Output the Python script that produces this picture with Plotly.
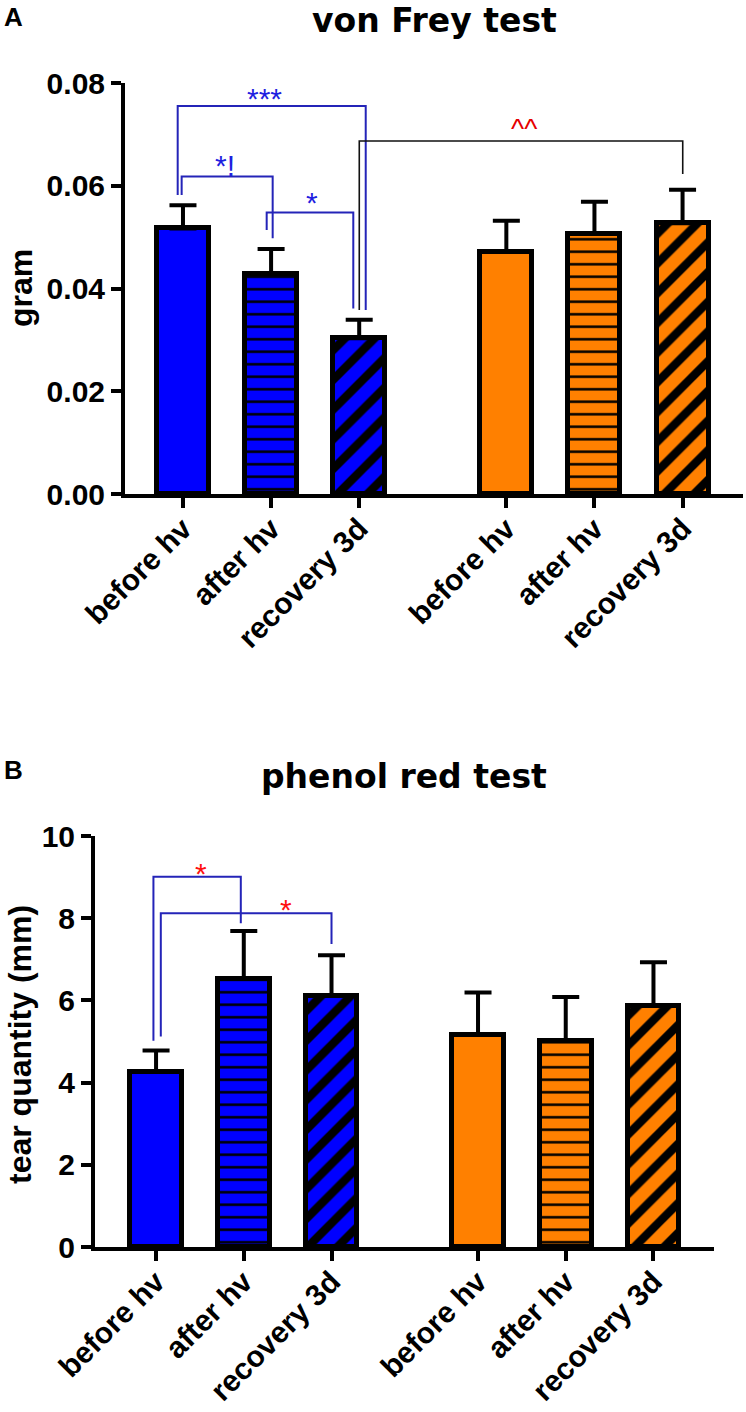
import plotly.graph_objects as go

# ---------------- data ----------------
categories = ["before hv", "after hv", "recovery 3d", "before hv", "after hv", "recovery 3d"]
x_pos = [0, 1, 2, 3.67, 4.67, 5.67]

vf_mean = [0.0517, 0.0428, 0.0303, 0.0472, 0.0506, 0.0527]
vf_sem = [0.0045, 0.0049, 0.0036, 0.0060, 0.0063, 0.0065]

pr_mean = [4.26, 6.52, 6.11, 5.16, 5.02, 5.87]
pr_sem = [0.52, 1.17, 0.99, 1.03, 1.06, 1.06]

vf_ticks = [0, 0.02, 0.04, 0.06, 0.08]
vf_ticktext = ["0.00", "0.02", "0.04", "0.06", "0.08"]
pr_ticks = [0, 2, 4, 6, 8, 10]
pr_ticktext = ["0", "2", "4", "6", "8", "10"]

# significance brackets: (x points, y points, colour key)
vf_brackets = [
    ([-0.06, -0.06, 2.074, 2.074], [0.0582, 0.0755, 0.0755, 0.0358], "blue"),
    ([-0.015, -0.015, 1.018, 1.018], [0.0582, 0.0618, 0.0618, 0.0498], "blue"),
    ([0.95, 0.95, 1.933, 1.933], [0.0514, 0.0548, 0.0548, 0.0361], "blue"),
    ([2.001, 2.001, 5.672, 5.672], [0.0358, 0.0687, 0.0687, 0.0623], "black"),
]
vf_marks = [("***", 0.93, 0.0783, "blue"), ("*!", 0.477, 0.0654, "blue"),
            ("*", 1.46, 0.0582, "blue"), ("^^", 3.87, 0.0725, "red")]

pr_brackets = [
    ([-0.03, -0.03, 0.966, 0.966], [5.02, 9.01, 9.01, 7.88], "blue"),
    ([0.054, 0.054, 2.0, 2.0], [5.12, 8.12, 8.12, 7.37], "blue"),
]
pr_marks = [("*", 0.513, 9.25, "red2"), ("*", 1.48, 8.37, "red2")]

# ---------------- styles ----------------
BLUE = "#0000FF"
ORANGE = "#FF8000"
fills = [BLUE, BLUE, BLUE, ORANGE, ORANGE, ORANGE]
shapes = ["", "-", "/", "", "-", "/"]
psizes = [10, 12.5, 21, 10, 12.5, 21]
psolid = [0.2, 0.2, 0.4, 0.2, 0.2, 0.4]
line_col = {"blue": "#2424b8", "black": "#111111"}
text_col = {"blue": "#1f1fe0", "red": "#e60000", "red2": "#ff1010"}

FONT = "Liberation Sans, Arial, Helvetica, sans-serif"
TFONT = "DejaVu Sans, Verdana, sans-serif"
W, H = 746, 1412

fig = go.Figure()


def add_panel(means, sems, xa, ya):
    for i in range(len(means)):
        pat = dict(shape=shapes[i], fgcolor="black", bgcolor=fills[i],
                   size=psizes[i], solidity=psolid[i], fillmode="replace")
        fig.add_trace(go.Bar(
            x=[x_pos[i]], y=[means[i]], width=0.59,
            marker=dict(color=fills[i], line=dict(color="black", width=5), pattern=pat),
            error_y=dict(type="data", array=[sems[i]], arrayminus=[0], symmetric=False,
                         color="black", thickness=4, width=13.5),
            xaxis=xa, yaxis=ya, hoverinfo="skip"))


add_panel(vf_mean, vf_sem, "x", "y")
add_panel(pr_mean, pr_sem, "x2", "y2")

for xs, ys, c in vf_brackets:
    fig.add_trace(go.Scatter(x=xs, y=ys, mode="lines", xaxis="x", yaxis="y",
                             line=dict(color=line_col[c], width=2 if c == "blue" else 1.6),
                             hoverinfo="skip"))
for xs, ys, c in pr_brackets:
    fig.add_trace(go.Scatter(x=xs, y=ys, mode="lines", xaxis="x2", yaxis="y2",
                             line=dict(color=line_col[c], width=2), hoverinfo="skip"))

annotations = []
for t, x, y, c in vf_marks:
    annotations.append(dict(text=t, x=x, y=y, xref="x", yref="y", showarrow=False,
                            xanchor="center", yanchor="middle", yshift=-7,
                            font=dict(family=FONT, size=30 if t != "^^" else 28, color=text_col[c])))
for t, x, y, c in pr_marks:
    annotations.append(dict(text=t, x=x, y=y, xref="x2", yref="y2", showarrow=False,
                            xanchor="center", yanchor="middle", yshift=-7,
                            font=dict(family=FONT, size=30, color=text_col[c])))


def px(xp):
    return xp / W


def py(yp):
    return 1 - yp / H


annotations += [
    dict(text="<b>von Frey test</b>", x=px(434.5), y=py(20), xref="paper", yref="paper",
         showarrow=False, xanchor="center", yanchor="middle",
         font=dict(family=TFONT, size=33, color="black")),
    dict(text="<b>phenol red test</b>", x=px(404), y=py(776), xref="paper", yref="paper",
         showarrow=False, xanchor="center", yanchor="middle",
         font=dict(family=TFONT, size=33, color="black")),
    dict(text="<b>A</b>", x=px(14), y=py(17), xref="paper", yref="paper",
         showarrow=False, xanchor="center", yanchor="middle",
         font=dict(family=FONT, size=26, color="black")),
    dict(text="<b>B</b>", x=px(14), y=py(770), xref="paper", yref="paper",
         showarrow=False, xanchor="center", yanchor="middle",
         font=dict(family=FONT, size=26, color="black")),
    dict(text="<b>gram</b>", x=px(21), y=py(288), xref="paper", yref="paper",
         showarrow=False, xanchor="center", yanchor="middle", textangle=-90,
         font=dict(family=FONT, size=32, color="black")),
    dict(text="<b>tear quantity (mm)</b>", x=px(20), y=py(1045), xref="paper", yref="paper",
         showarrow=False, xanchor="center", yanchor="middle", textangle=-90,
         font=dict(family=FONT, size=32, color="black")),
]

xcommon = dict(tickvals=x_pos, ticktext=categories, tickangle=-45, showline=True,
               linewidth=4, linecolor="black", ticks="outside", ticklen=10, tickwidth=4,
               tickcolor="black", showgrid=False, zeroline=False, fixedrange=True,
               automargin=False, ticklabelstandoff=-9,
               tickfont=dict(family=FONT, size=30, color="black", weight="bold"))
ycommon = dict(showline=True, linewidth=4, linecolor="black", ticks="outside", ticklen=10,
               tickwidth=4, tickcolor="black", showgrid=False, zeroline=False, fixedrange=True,
               automargin=False,
               tickfont=dict(family=FONT, size=30, color="black", weight="bold"))

fig.update_layout(
    width=W, height=H, margin=dict(l=0, r=0, t=0, b=0, autoexpand=False),
    paper_bgcolor="white", plot_bgcolor="white", showlegend=False,
    xaxis=dict(domain=[px(125), px(743)], range=[-0.658, 6.356], anchor="y", **xcommon),
    yaxis=dict(domain=[py(494), py(83)], range=[0, 0.08], tickvals=vf_ticks,
               ticktext=vf_ticktext, anchor="x", **ycommon),
    xaxis2=dict(domain=[px(95), px(714)], range=[-0.696, 6.36], anchor="y2", **xcommon),
    yaxis2=dict(domain=[py(1247), py(836)], range=[0, 10], tickvals=pr_ticks,
                ticktext=pr_ticktext, anchor="x2", **ycommon),
    annotations=annotations,
    bargap=0,
)

fig.write_html(
    "out.html",
    config={"displayModeBar": False},
    post_script="document.body.style.margin='0';document.body.style.overflow='hidden';",
)
